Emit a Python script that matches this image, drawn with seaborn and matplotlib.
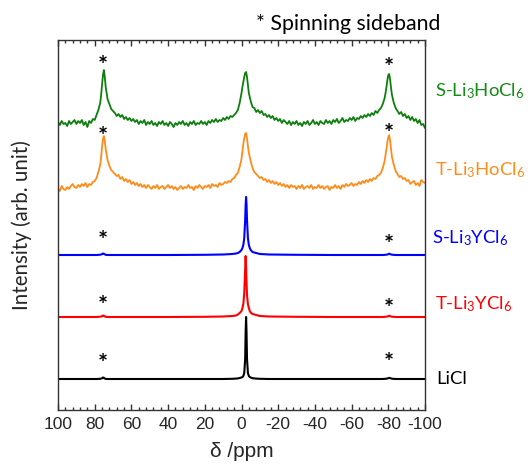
import numpy as np
import pandas as pd
import matplotlib
matplotlib.use("Agg")
import matplotlib.pyplot as plt
import matplotlib.transforms as mtransforms
from matplotlib.ticker import MultipleLocator
from matplotlib.textpath import TextPath
from matplotlib.font_manager import FontProperties
import seaborn as sns

# ---------------- data ----------------
HO_PPM = [100, 99, 98, 97, 96, 95, 94, 93, 92, 91, 90, 89, 88, 87, 86, 85, 84, 83, 82, 81, 80,
          79, 78, 77, 76.5, 76, 75.5, 75, 74.5, 74, 73, 72, 71, 70,
          69, 68, 67, 66, 65, 64, 63, 62, 61, 60,
          59, 58, 57, 56, 55, 54, 53, 52, 51, 50,
          49, 48, 47, 46, 45, 44, 43, 42, 41, 40,
          39, 38, 37, 36, 35, 34, 33, 32, 31, 30,
          29, 28, 27, 26, 25, 24, 23, 22, 21, 20,
          19, 18, 17, 16, 15, 14, 13, 12, 11, 10,
          9, 8, 7, 6, 5,
          4, 3, 2, 1, 0, -0.5, -1, -1.5, -2, -2.5, -3, -3.5, -4, -5, -6, -7, -8,
          -9, -10, -11, -12, -13, -14, -15, -16, -17, -18,
          -19, -20, -21, -22, -23, -24, -25, -26, -27, -28,
          -29, -30, -31, -32, -33, -34, -35, -36, -37, -38,
          -39, -40, -41, -42, -43, -44, -45, -46, -47, -48,
          -49, -50, -51, -52, -53, -54, -55, -56, -57, -58,
          -59, -60, -61, -62, -63, -64, -65, -66, -67, -68,
          -69, -70, -71, -72, -73, -74, -75,
          -76, -77, -78, -78.5, -79, -79.5, -80, -80.5, -81, -81.5, -82, -83, -84, -85, -86,
          -87, -88, -89, -90, -91, -92, -93, -94, -95, -96, -97, -98, -99, -100]

S_LI3HOCL6 = [1, -2, 2, -1, 0, -3, 2, -1, 1, 3, -1, 2, 0, 3, -2, 1, -4, 2, 0, 4, 3,
              8, 13, 20, 28, 38, 48, 53, 46, 36, 24, 19, 14, 12,
              10, 7, 9, 6, 8, 4, 6, 3, 5, 2,
              4, 1, 3, -1, 2, 0, 3, -2, 1, -1,
              2, -2, 0, -3, 1, -1, 2, -2, 0, -3,
              1, -1, -4, 0, -2, 1, -1, 2, -2, 0,
              -3, 1, -1, 2, -2, 0, -1, 2, -1, 1,
              -2, 2, 0, 3, 1, 4, 1, 3, 2, 5,
              3, 6, 4, 7, 6,
              8, 10, 13, 20, 30, 36, 41, 46, 50, 51, 46, 38, 30, 22, 16, 15, 11,
              13, 10, 12, 8, 9, 6, 8, 5, 7, 3,
              5, 2, 4, 0, 3, 1, -1, 2, -2, 1,
              -1, 2, -2, 0, -3, 1, -1, 2, -2, 0,
              3, -1, 1, -2, 2, 0, -1, 3, 0, 2,
              -1, 3, 1, 4, 0, 2, 5, 1, 3, 2,
              5, 3, 6, 2, 5, 4, 7, 5, 8, 6,
              9, 7, 10, 8, 12, 10, 13,
              15, 19, 25, 30, 36, 43, 48, 49, 43, 35, 28, 20, 15, 12, 9,
              11, 7, 9, 5, 7, 3, 6, 2, 4, 0, 3, -2, -1, -5]

T_LI3HOCL6 = [-1, -4, 1, -2, -3, 0, -2, 1, 3, 0, -1, 2, 0, 3, 1, 4, 0, 3, 2, 5, 6,
              9, 15, 22, 30, 40, 48, 51, 46, 38, 27, 21, 17, 15,
              13, 11, 12, 8, 10, 6, 8, 5, 7, 3,
              5, 2, 4, 1, 3, 0, 2, -1, 2, 0,
              -2, 1, -1, 2, -2, 0, 1, -2, 0, 2,
              -1, 1, -2, 0, -3, -1, 1, -2, 0, -1,
              2, -1, 0, -3, 1, -1, 2, 0, -2, 1,
              0, 2, -1, 3, 1, 2, 0, 4, 2, 3,
              5, 4, 6, 5, 8,
              9, 12, 14, 20, 28, 36, 43, 49, 53, 54, 49, 41, 34, 26, 19, 15, 13,
              11, 9, 10, 7, 8, 5, 7, 4, 6, 3,
              5, 2, 4, 1, 3, 0, 2, -1, 2, 0,
              1, -2, 1, -1, 2, -2, 0, 1, -1, 2,
              -2, 0, -1, 2, -1, 1, -2, 0, 1, -3,
              0, -1, 2, -1, 1, -2, 2, 0, 3, 1,
              2, 4, 1, 3, 2, 5, 3, 6, 4, 7,
              5, 8, 6, 9, 8, 11, 12,
              14, 19, 26, 32, 38, 45, 50, 52, 46, 38, 30, 22, 16, 13, 10,
              11, 8, 9, 6, 7, 3, 5, 6, 2, 4, 1, 7, 5, 4]

Y_PPM = [100, 90, 82, 79, 77, 76, 75.5, 75, 74.5, 74,
         73, 71, 60, 40, 20, 10, 5, 3, 2, 1,
         0, -0.5, -1, -1.5, -2, -2.25, -2.5, -2.75, -3, -3.5,
         -4, -4.5, -5, -6, -8, -10, -15, -30, -50, -70,
         -77, -79, -80, -80.5, -81, -82, -84, -90, -100]

S_LI3YCL6 = [0, 0, 0, 0, 0.3, 0.8, 1.5, 1.2, 0.6, 0.2,
             0, 0, 0, 0, 0.2, 0.5, 1, 1.5, 2, 3,
             5, 7, 10, 17, 35, 50, 58, 50, 35, 17,
             10, 7, 5, 3, 2, 1, 0.5, 0.2, 0, 0,
             0, 0.3, 0.8, 1.3, 0.8, 0.3, 0, 0, 0]

T_LI3YCL6 = [0, 0, 0, 0, 0.3, 0.8, 1.5, 1.2, 0.6, 0.2,
             0, 0, 0, 0, 0.2, 0.5, 1, 1.5, 2.5, 4,
             6, 9, 13, 24, 48, 61, 50, 34, 22, 13,
             9, 6, 4.5, 3, 2, 1, 0.5, 0.2, 0, 0,
             0, 0.3, 0.8, 1.3, 0.8, 0.3, 0, 0, 0]

LICL = [0, 0, 0, 0, 0.2, 0.7, 1.5, 1.2, 0.5, 0.1,
        0, 0, 0, 0, 0, 0, 0.2, 0.4, 0.6, 1,
        1.5, 2, 3, 6, 20, 46, 62, 46, 20, 6,
        3, 2, 1.5, 0.8, 0.4, 0.2, 0, 0, 0, 0,
        0, 0.3, 0.8, 1.2, 0.8, 0.3, 0, 0, 0]

LABELS = ["S-Li$_3$HoCl$_6$", "T-Li$_3$HoCl$_6$", "S-Li$_3$YCl$_6$", "T-Li$_3$YCl$_6$", "LiCl"]
SIDEBAND_PPM = [75.5, -80.4]
X_TICKS = [100, 80, 60, 40, 20, 0, -20, -40, -60, -80, -100]

# ---------------- style / layout ----------------
sns.set_theme(style="white")
plt.rcParams["font.family"] = ["Liberation Sans", "DejaVu Sans"]
plt.rcParams["axes.unicode_minus"] = False
plt.rcParams["mathtext.fontset"] = "custom"
plt.rcParams["mathtext.rm"] = "Lato"
plt.rcParams["mathtext.it"] = "Lato:italic"
plt.rcParams["mathtext.bf"] = "Lato:bold"

W, H = 528, 471
fig = plt.figure(figsize=(W / 100, H / 100), dpi=100)
AX_L, AX_R, AX_T, AX_B = 58, 425, 40, 410
ax = fig.add_axes([AX_L / W, 1 - AX_B / H, (AX_R - AX_L) / W, (AX_B - AX_T) / H])

series = [
    (HO_PPM, S_LI3HOCL6, 287, "#0d7f0d", "#138a13", 1.3),
    (HO_PPM, T_LI3HOCL6, 223, "#ff8c1a", "#ff8c1a", 1.3),
    (Y_PPM, S_LI3YCL6, 155, "#0000ff", "#0000ff", 1.5),
    (Y_PPM, T_LI3YCL6, 93, "#ff0000", "#ff0000", 1.5),
    (Y_PPM, LICL, 31, "#000000", "#000000", 1.5),
]
label_baselines = [96, 175, 243, 309, 384]
label_x = [435, 435, 432, 435, 436]
star_y = [(350, 347.7), (279, 281.7), (175, 170.7), (110, 107.3), (51.7, 53.3)]

for (xs, ys, base, lc, tc, lw), lab, by, lx in zip(series, LABELS, label_baselines, label_x):
    df = pd.DataFrame({"ppm": xs, "intensity": np.asarray(ys, float) + base})
    sns.lineplot(data=df, x="ppm", y="intensity", sort=False, estimator=None,
                 color=lc, lw=lw, ax=ax)
    fig.text(lx / W, 1 - by / H, lab, color=tc, fontsize=13.3, family="Lato",
             ha="left", va="baseline")

ax.set_xlim(100, -100)
ax.set_ylim(0, AX_B - AX_T)
ax.set_yticks([])
ax.set_xticks(X_TICKS)
ax.set_xticklabels([str(t) for t in X_TICKS])
ax.xaxis.set_minor_locator(MultipleLocator(4))
ax.tick_params(axis="x", which="both", direction="in", top=True, bottom=True,
               labelsize=12.5, pad=5, color="#333333", width=1)
ax.tick_params(axis="x", which="major", length=4)
ax.tick_params(axis="x", which="minor", length=2.5)
for s in ax.spines.values():
    s.set_color("#333333")
    s.set_linewidth(1)

ax.set_xlabel("δ /ppm", fontsize=15, labelpad=7)
ax.set_ylabel("Intensity (arb. unit)", fontsize=14.8, family="Lato")
ax.yaxis.set_label_coords(-0.072, 0.5)

# asterisks marking spinning sidebands (ink centred on read positions)
star_fs = 17
fp = FontProperties(family="Lato", weight="bold", size=star_fs)
ext = TextPath((0, 0), "*", size=star_fs * 100 / 72, prop=fp).get_extents()
yoff = -(ext.y0 + ext.y1) / 2
star_tr = mtransforms.offset_copy(ax.transData, fig=fig, x=0, y=yoff, units="dots")
for sy in star_y:
    for px, yy in zip(SIDEBAND_PPM, sy):
        ax.text(px, yy, "*", transform=star_tr, ha="center", va="baseline",
                fontsize=star_fs, family="Lato", fontweight="bold", color="black")

fig.text(256 / W, 1 - 29.5 / H, "* Spinning sideband", fontsize=15.3, family="Lato",
         ha="left", va="baseline", color="black")

fig.savefig("out.png", dpi=100)
